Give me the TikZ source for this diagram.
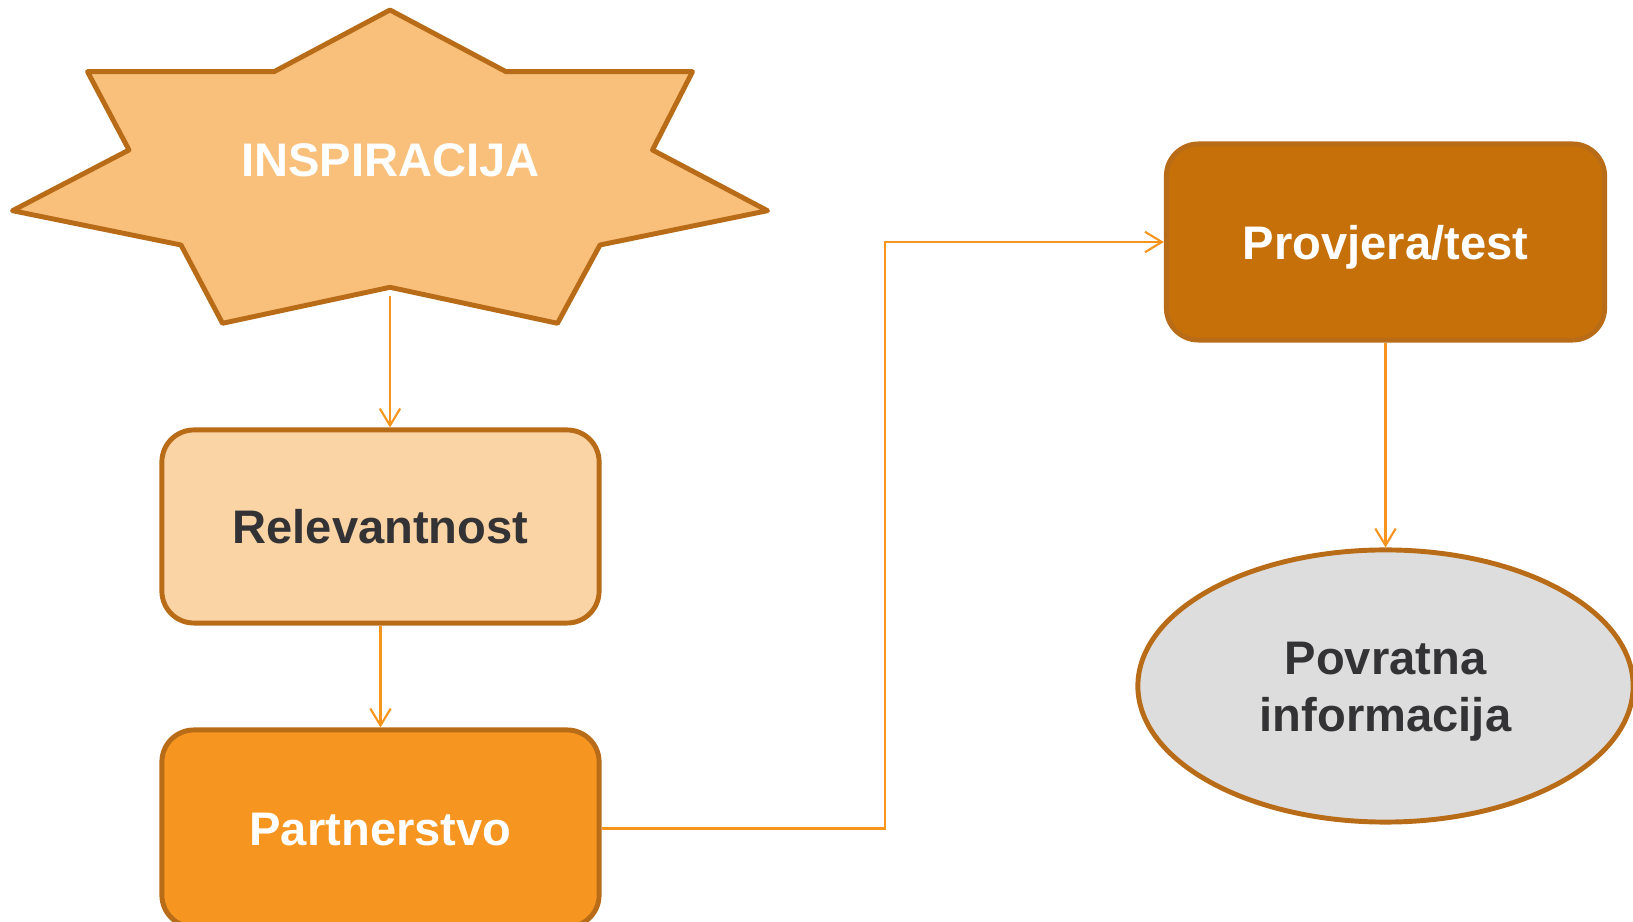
\documentclass[tikz,border=0pt]{standalone}
\usepackage{fontspec}
\setmainfont{Liberation Sans}
\usetikzlibrary{arrows.meta,shapes.geometric}
\definecolor{brd}{HTML}{B96C18}
\definecolor{starfill}{HTML}{F9C07B}
\definecolor{relfill}{HTML}{FBD4A5}
\definecolor{partfill}{HTML}{F6951F}
\definecolor{provfill}{HTML}{C6700A}
\definecolor{povfill}{HTML}{DDDDDD}
\definecolor{darktxt}{HTML}{333335}
\definecolor{conncol}{HTML}{F7941D}
\begin{document}
\begin{tikzpicture}[x=0.01cm,y=-0.01cm,
  every node/.style={font=\fontsize{13.4pt}{16pt}\selectfont\bfseries},
  boxnode/.style={draw=brd, line width=1.4pt, rounded corners=0.32cm,
    minimum width=4.37cm, inner sep=0pt, text height=0.345cm, text depth=0pt},
  conn/.style={draw=conncol, line width=0.6pt,
    -{Straight Barb[length=4.8pt,width=5.8pt]}}]
\useasboundingbox (0,0) rectangle (1633,922);
\clip (0,0) rectangle (1633,922);
% star
\filldraw[fill=starfill, draw=brd, line width=1.4pt, line join=round]
  (390,10) -- (506,71.7) -- (692.5,71.7) -- (652.5,150) -- (767.5,210.7)
  -- (600,245) -- (557.5,323.3) -- (390,287.3) -- (222.5,323.3) -- (181,245)
  -- (12.5,210.7) -- (129,150) -- (87.5,71.7) -- (274,71.7) -- cycle;
\node[anchor=base, text=white] (insp) at (390.5,176.7) {INSPIRACIJA};
\coordinate (stb) at (390,296);
% boxes
\node[boxnode, fill=relfill, text=darktxt, minimum height=1.93cm] (rel) at (380.5,526.5) {Relevantnost};
\node[boxnode, fill=partfill, text=white, minimum height=1.97cm] (part) at (380.5,828.5) {Partnerstvo};
\node[boxnode, fill=provfill, text=white, minimum width=4.38cm, minimum height=1.96cm] (prov) at (1385.5,242) {Provjera/test};
\node[ellipse, draw=brd, fill=povfill, line width=1.4pt, minimum width=4.95cm,
  minimum height=2.72cm, inner sep=0pt] (pov) at (1385.5,686) {};
\node[anchor=base, text=darktxt] (pov1) at (1385.5,675) {Povratna};
\node[anchor=base, text=darktxt] (pov2) at (1385.5,731.7) {informacija};
% connectors
\coordinate (elb) at (885,242);
\draw[conn] (stb) -- (stb |- rel.north);
\draw[conn] (rel.south) -- (part.north);
\draw[conn] (part.east) -| (elb) -- (prov.west);
\draw[conn] (prov.south) -- (pov.north);
\end{tikzpicture}
\end{document}
